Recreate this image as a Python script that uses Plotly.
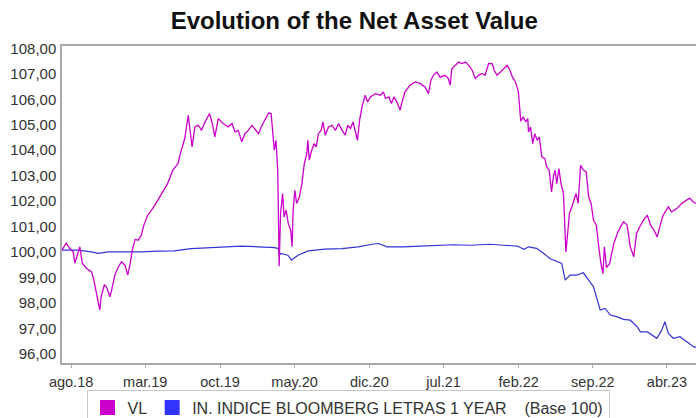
import plotly.graph_objects as go

# ---- Data ----
vl_dates = [
    "2018-07-06", "2018-07-18", "2018-07-28", "2018-08-07", "2018-08-12", "2018-08-21", "2018-08-26",
    "2018-09-02", "2018-09-14", "2018-09-28", "2018-10-03", "2018-10-09", "2018-10-17", "2018-10-22",
    "2018-10-26", "2018-11-04", "2018-11-10", "2018-11-20", "2018-11-25", "2018-12-04", "2018-12-14",
    "2018-12-23", "2019-01-02", "2019-01-10", "2019-01-17", "2019-01-23", "2019-01-31", "2019-02-09",
    "2019-02-18", "2019-02-25", "2019-03-08", "2019-03-22", "2019-04-06", "2019-04-20", "2019-05-04",
    "2019-05-19", "2019-06-03", "2019-06-08", "2019-06-17", "2019-06-22", "2019-07-02", "2019-07-09",
    "2019-07-13", "2019-07-21", "2019-07-31", "2019-08-09", "2019-08-19", "2019-09-01", "2019-09-10",
    "2019-09-16", "2019-09-26", "2019-10-10", "2019-10-24", "2019-11-04", "2019-11-13", "2019-11-22",
    "2019-12-02", "2019-12-11", "2019-12-21", "2019-12-31", "2020-01-10", "2020-01-19", "2020-01-29",
    "2020-02-08", "2020-02-17", "2020-02-24", "2020-02-28", "2020-03-04", "2020-03-09", "2020-03-14",
    "2020-03-18", "2020-03-22", "2020-03-28", "2020-04-01", "2020-04-07", "2020-04-13", "2020-04-20",
    "2020-04-24", "2020-04-27", "2020-05-02", "2020-05-07", "2020-05-15", "2020-05-22", "2020-05-29",
    "2020-06-05", "2020-06-08", "2020-06-12", "2020-06-19", "2020-06-26", "2020-07-02", "2020-07-08",
    "2020-07-16", "2020-07-21", "2020-07-28", "2020-08-06", "2020-08-16", "2020-08-26", "2020-09-04",
    "2020-09-14", "2020-09-23", "2020-09-30", "2020-10-08", "2020-10-15", "2020-10-22", "2020-10-28",
    "2020-11-03", "2020-11-10", "2020-11-19", "2020-11-26", "2020-12-04", "2020-12-18", "2021-01-02",
    "2021-01-10", "2021-01-16", "2021-01-26", "2021-02-02", "2021-02-09", "2021-02-18", "2021-02-27",
    "2021-03-03", "2021-03-13", "2021-03-27", "2021-04-11", "2021-04-25", "2021-05-09", "2021-05-19",
    "2021-05-26", "2021-06-02", "2021-06-12", "2021-06-21", "2021-07-05", "2021-07-15", "2021-07-20",
    "2021-07-25", "2021-08-04", "2021-08-13", "2021-08-23", "2021-09-02", "2021-09-11", "2021-09-21",
    "2021-09-30", "2021-10-09", "2021-10-19", "2021-10-28", "2021-11-07", "2021-11-17", "2021-11-23",
    "2021-12-01", "2021-12-11", "2021-12-20", "2021-12-30", "2022-01-07", "2022-01-14", "2022-01-23",
    "2022-01-31", "2022-02-07", "2022-02-14", "2022-02-21", "2022-02-27", "2022-03-01", "2022-03-07",
    "2022-03-13", "2022-03-19", "2022-03-26", "2022-04-01", "2022-04-08", "2022-04-17", "2022-04-22",
    "2022-04-29", "2022-05-06", "2022-05-11", "2022-05-16", "2022-05-21", "2022-05-27", "2022-06-02",
    "2022-06-09", "2022-06-14", "2022-06-16", "2022-06-21", "2022-06-26", "2022-07-03", "2022-07-09",
    "2022-07-15", "2022-07-21", "2022-07-28", "2022-08-05", "2022-08-13", "2022-08-20", "2022-08-27",
    "2022-09-03", "2022-09-11", "2022-09-18", "2022-09-24", "2022-09-30", "2022-10-04", "2022-10-10",
    "2022-10-19", "2022-10-31", "2022-11-10", "2022-11-19", "2022-11-28", "2022-12-08", "2022-12-17",
    "2022-12-27", "2023-01-04", "2023-01-13", "2023-01-23", "2023-02-04", "2023-02-13", "2023-02-23",
    "2023-03-04", "2023-03-14", "2023-03-21", "2023-04-05", "2023-04-14", "2023-04-29", "2023-05-13",
    "2023-05-27", "2023-06-05", "2023-06-16", "2023-06-23",
]
vl_values = [
    100.08, 100.36, 100.15, 100.01, 99.57, 99.96, 100.21,
    99.57, 99.36, 99.23, 99.03, 98.64, 98.12, 97.73,
    98.25, 98.71, 98.64, 98.25, 98.51, 99.10, 99.42,
    99.62, 99.49, 99.10, 99.56, 100.08, 100.50, 100.47,
    100.67, 101.06, 101.45, 101.71, 102.04, 102.36, 102.69,
    103.22, 103.48, 103.80, 104.26, 104.46, 105.37, 104.65,
    104.13, 104.91, 104.98, 104.78, 105.11, 105.44, 104.98,
    104.52, 105.24, 105.05, 104.91, 105.05, 104.72, 104.78,
    104.33, 104.65, 104.78, 104.98, 104.78, 104.65, 104.98,
    105.24, 105.46, 105.44, 104.86, 104.00, 104.39, 103.14,
    99.45, 101.52, 102.30, 101.38, 101.65, 101.12, 100.86,
    100.21, 101.65, 102.43, 101.91, 102.17, 102.69, 103.48,
    103.87, 104.39, 103.61, 104.00, 104.26, 104.13, 104.65,
    104.78, 105.11, 104.59, 104.91, 104.98, 104.78, 105.05,
    104.78, 104.59, 104.98, 104.85, 105.11, 104.65, 104.39,
    105.18, 105.70, 106.16, 105.89, 106.09, 106.22, 106.16,
    106.29, 106.03, 106.09, 105.83, 106.09, 105.89, 105.57,
    105.83, 106.29, 106.55, 106.68, 106.62, 106.48, 106.22,
    106.75, 106.94, 107.07, 106.87, 106.94, 106.81, 106.55,
    107.20, 107.33, 107.46, 107.40, 107.46, 107.33, 107.14,
    106.81, 106.94, 107.01, 106.94, 107.40, 107.40, 107.14,
    106.94, 107.07, 107.20, 107.33, 107.14, 106.87, 106.68,
    106.29, 105.14, 105.31, 105.11, 105.24, 104.72, 104.91,
    104.26, 104.65, 104.39, 104.52, 103.74, 103.67, 103.34,
    103.22, 102.36, 102.95, 103.22, 102.69, 103.28, 102.69,
    102.30, 100.16, 100.01, 100.73, 101.52, 101.78, 102.04,
    102.30, 101.91, 103.41, 103.22, 103.15, 102.17, 101.91,
    101.25, 101.06, 100.21, 99.56, 99.16, 100.21, 99.39,
    99.56, 100.34, 100.73, 100.99, 101.19, 101.06, 100.21,
    99.82, 100.73, 100.99, 101.25, 101.45, 101.06, 100.86,
    100.60, 101.12, 101.45, 101.78, 101.58, 101.71, 101.91,
    102.04, 102.11, 101.97, 101.91,
]

idx_dates = [
    "2018-07-06", "2018-08-21", "2018-09-28", "2018-10-17", "2018-11-15", "2019-01-02", "2019-02-18",
    "2019-04-06", "2019-05-23", "2019-07-10", "2019-08-28", "2019-10-14", "2019-12-01", "2020-01-19",
    "2020-03-05", "2020-03-16", "2020-03-18", "2020-03-23", "2020-04-12", "2020-04-22", "2020-05-11",
    "2020-06-09", "2020-07-27", "2020-09-13", "2020-10-30", "2020-12-08", "2020-12-27", "2021-01-21",
    "2021-03-08", "2021-04-25", "2021-06-12", "2021-07-29", "2021-09-16", "2021-11-12", "2021-12-20",
    "2022-01-28", "2022-02-16", "2022-03-01", "2022-03-24", "2022-04-12", "2022-05-01", "2022-05-21",
    "2022-06-04", "2022-06-14", "2022-06-28", "2022-07-17", "2022-08-05", "2022-08-20", "2022-09-03",
    "2022-09-22", "2022-10-06", "2022-10-21", "2022-11-10", "2022-11-28", "2022-12-17", "2023-01-06",
    "2023-01-15", "2023-02-04", "2023-03-03", "2023-03-17", "2023-03-26", "2023-04-05", "2023-04-19",
    "2023-05-08", "2023-05-27", "2023-06-16", "2023-06-23",
]
idx_values = [
    100.08, 100.08, 100.01, 99.95, 100.01, 100.01, 100.01,
    100.04, 100.05, 100.14, 100.18, 100.21, 100.24, 100.21,
    100.18, 100.14, 99.88, 99.95, 99.88, 99.69, 99.88,
    100.05, 100.12, 100.14, 100.21, 100.31, 100.34, 100.21,
    100.21, 100.24, 100.26, 100.29, 100.27, 100.31, 100.27,
    100.24, 100.11, 100.21, 100.15, 99.97, 99.75, 99.62,
    99.56, 98.90, 99.10, 99.10, 99.19, 98.90, 98.64,
    97.73, 97.79, 97.53, 97.46, 97.36, 97.33, 97.07,
    96.87, 96.87, 96.62, 96.94, 97.27, 96.81, 96.62,
    96.68, 96.48, 96.29, 96.26,
]

tick_dates = ["2018-08-01", "2019-03-01", "2019-10-01", "2020-05-01", "2020-12-01",
              "2021-07-01", "2022-02-01", "2022-09-01", "2023-04-01"]
tick_labels = ["ago.18", "mar.19", "oct.19", "may.20", "dic.20",
               "jul.21", "feb.22", "sep.22", "abr.23"]
y_ticks = [96, 97, 98, 99, 100, 101, 102, 103, 104, 105, 106, 107, 108]

series_names = ["VL", "IN. INDICE BLOOMBERG LETRAS 1 YEAR&nbsp;&nbsp;&nbsp;&nbsp;(Base 100)"]
line_colors = ["#CC00CC", "#3535D5"]
legend_colors = ["#CC00CC", "#3333FF"]

fig = go.Figure()
fig.add_trace(go.Scatter(x=idx_dates, y=idx_values, mode="lines",
                         line=dict(color=line_colors[1], width=1.2), showlegend=False))
fig.add_trace(go.Scatter(x=vl_dates, y=vl_values, mode="lines",
                         line=dict(color=line_colors[0], width=1.3), showlegend=False))
for name, col in zip(series_names, legend_colors):
    fig.add_trace(go.Scatter(x=[None], y=[None], mode="markers", name=name,
                             marker=dict(symbol="square", size=15, color=col)))

font_family = "Liberation Sans, Arial, sans-serif"
fig.update_layout(
    width=696, height=418,
    margin=dict(l=62, r=0, t=46, b=55, autoexpand=False),
    paper_bgcolor="white", plot_bgcolor="white",
    separators=",.",
    font=dict(family=font_family, size=13, color="#333333"),
    title=dict(text="<b>Evolution of the Net Asset Value</b>", x=0.509, xanchor="center",
               xref="container", y=0.95, yanchor="middle", yref="container",
               font=dict(size=24, color="#111111", family=font_family)),
    legend=dict(orientation="h", x=0.5, xanchor="center", xref="container",
                y=0.068, yanchor="top", yref="container",
                bordercolor="#C8C8C8", borderwidth=1, font=dict(size=16, color="#333333"),
                itemwidth=30, tracegroupgap=0),
    xaxis=dict(type="date", range=["2018-07-06", "2023-06-23"], automargin=False,
               tickmode="array", tickvals=tick_dates, ticktext=tick_labels,
               showgrid=False, zeroline=False, showline=True, mirror=True,
               linecolor="#A8A8A8", linewidth=1.5, ticks="outside", ticklen=3,
               tickcolor="#A8A8A8", ticklabelstandoff=2,
               tickfont=dict(size=14.5, color="#333333")),
    yaxis=dict(range=[95.65, 108.09], tickmode="array", tickvals=y_ticks, automargin=False,
               tickformat=".2f", showgrid=False, zeroline=False, showline=True,
               linecolor="#A8A8A8", linewidth=1.5, ticks="", ticklen=0, ticklabelstandoff=1,
               tickfont=dict(size=15, color="#333333")),
)

fig.write_html("out.html", config={"displayModeBar": False},
               post_script="document.body.style.margin='0';document.body.style.overflow='hidden';")
